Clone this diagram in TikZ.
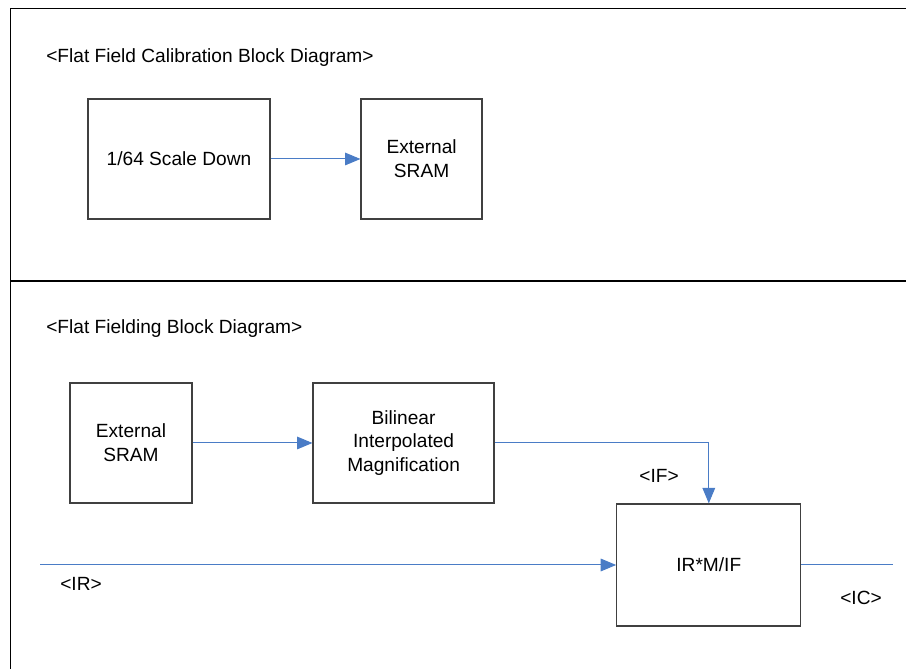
\documentclass[tikz,border=0pt]{standalone}
\usepackage{fontspec}
\setmainfont{Liberation Sans}
\usepackage{xcolor}
\usetikzlibrary{arrows.meta}
\definecolor{FFBlue}{HTML}{4A7CC6}
\definecolor{FFBox}{HTML}{404040}

\tikzset{
  blockbox/.style={draw=FFBox,line width=0.9pt,minimum height=3.0cm,align=center,
    font=\fontsize{13.6}{17}\selectfont,inner sep=0pt},
  flow/.style={FFBlue,line width=0.7pt,-{Triangle[length=11pt,width=9pt]}},
  plainflow/.style={FFBlue,line width=0.7pt},
  tag/.style={font=\fontsize{13.6}{17}\selectfont,inner sep=0pt}
}

\begin{document}
\begin{tikzpicture}[x=1cm,y=1cm]
\path[use as bounding box] (0,0) rectangle (22.65,16.725);
% frame
\draw[line width=0.6pt] (22.65,16.525) -- (0.25,16.525) -- (0.25,0);
\draw[line width=0.9pt] (0.25,9.7) -- (22.65,9.7);
% calibration part
\node[tag,anchor=west] (titleA) at (1.15,15.28) {<Flat Field Calibration Block Diagram>};
\node[blockbox,minimum width=4.55cm] (scale) at (4.475,12.75) {1/64 Scale Down};
\node[blockbox,minimum width=3.025cm] (sramA) at (10.54,12.75) {External\\SRAM};
\draw[flow] (scale) -- (sramA);
% flat fielding part
\node[tag,anchor=west] (titleB) at (1.15,8.5) {<Flat Fielding Block Diagram>};
\node[blockbox,minimum width=3.05cm] (sramB) at (3.275,5.65) {External\\SRAM};
\node[blockbox,minimum width=4.525cm] (bilin) at (10.09,5.65) {Bilinear\\Interpolated\\Magnification};
\node[blockbox,minimum width=4.6cm,minimum height=3.05cm] (calc) at (17.72,2.6) {IR*M/IF};
\coordinate (irin) at (1.0,2.6);
\coordinate (icout) at (22.325,2.6);
\draw[flow] (sramB) -- (bilin);
\draw[flow] (bilin.east) -| (calc.north);
\draw[flow] (irin) -- (calc.west);
\draw[plainflow] (calc.east) -- (icout);
\node[tag] (irlbl) at (2.025,2.12) {<IR>};
\node[tag] (iflbl) at (16.475,4.82) {<IF>};
\node[tag] (iclbl) at (21.525,1.77) {<IC>};
\end{tikzpicture}
\end{document}
